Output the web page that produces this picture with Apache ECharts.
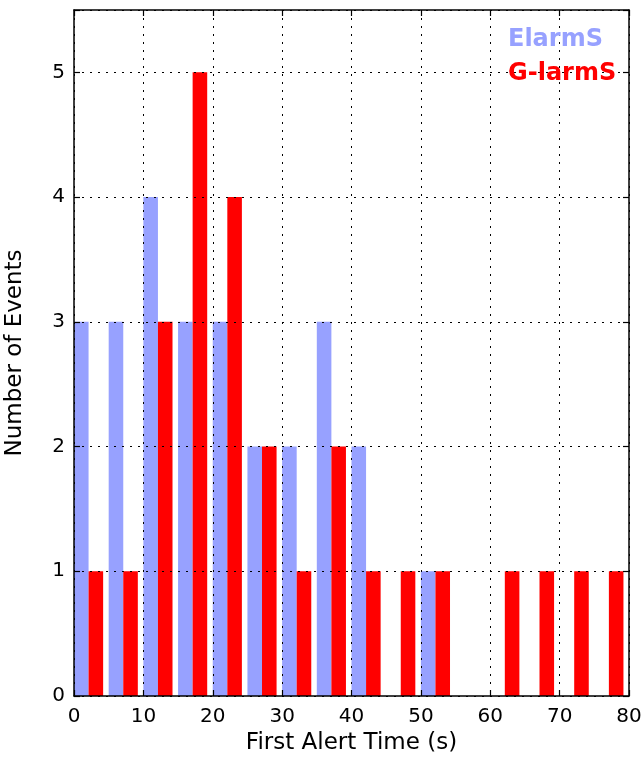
<!DOCTYPE html>
<html>
<head>
<meta charset="utf-8">
<title>First Alert Time</title>
<script src="https://cdn.jsdelivr.net/npm/echarts@6/dist/echarts.min.js"></script>
<style>
  html, body { margin: 0; padding: 0; background: #fff; }
  #chart { width: 644px; height: 761px; }
</style>
</head>
<body>
<div id="chart"></div>
<script>
// histogram bins, 5 s wide, left edges
var binStarts = [0, 5, 10, 15, 20, 25, 30, 35, 40, 45, 50, 55, 60, 65, 70, 75];
var elarmsCounts = [3, 3, 4, 3, 3, 2, 2, 3, 2, 0, 1, 0, 0, 0, 0, 0];
var glarmsCounts = [1, 1, 3, 5, 4, 2, 1, 2, 1, 1, 1, 0, 1, 1, 1, 1];
var seriesNames = ["ElarmS", "G-larmS"];
var xTicks = [0, 10, 20, 30, 40, 50, 60, 70, 80];
var yTicks = [0, 1, 2, 3, 4, 5];

var BAR_W = 2.1; // bar width in seconds
var colors = ["#97a1ff", "#ff0000"];

function binData(counts) {
  var out = [];
  for (var i = 0; i < binStarts.length; i++) {
    out.push([binStarts[i], counts[i]]);
  }
  return out;
}

function barRenderer(offset, color) {
  return function (params, api) {
    var v = api.value(1);
    if (!v) return null;
    var b = api.value(0) + offset;
    var p0 = api.coord([b, v]);
    var p1 = api.coord([b + BAR_W, 0]);
    return {
      type: "rect",
      shape: { x: p0[0], y: p0[1], width: p1[0] - p0[0], height: p1[1] - p0[1] },
      style: { fill: color }
    };
  };
}

var font = "DejaVu Sans";
var gridLine = { show: true, lineStyle: { color: "#000", width: 1, type: [2, 6] } };

var chart = echarts.init(document.getElementById("chart"));
var option = {
  backgroundColor: "#fff",
  animation: false,
  grid: { left: 74, right: 15, top: 10, bottom: 65, containLabel: false, outerBoundsMode: "none" },
  xAxis: [
    {
      type: "value",
      min: xTicks[0],
      max: xTicks[xTicks.length - 1],
      interval: 10,
      z: 5,
      position: "bottom",
      name: "First Alert Time (s)",
      nameLocation: "middle",
      nameGap: 35,
      nameTextStyle: { fontFamily: font, fontSize: 23, color: "#000" },
      axisLine: { onZero: false, lineStyle: { color: "#000", width: 1.5 } },
      axisTick: { inside: true, length: 6, lineStyle: { color: "#000", width: 1.2 } },
      axisLabel: { margin: 11, fontFamily: font, fontSize: 20, color: "#000" },
      splitLine: gridLine
    },
    {
      type: "value",
      min: xTicks[0],
      max: xTicks[xTicks.length - 1],
      interval: 10,
      z: 5,
      position: "top",
      axisLine: { onZero: false, lineStyle: { color: "#000", width: 1.5 } },
      axisTick: { inside: true, length: 6, lineStyle: { color: "#000", width: 1.2 } },
      axisLabel: { show: false },
      splitLine: { show: false }
    }
  ],
  yAxis: [
    {
      type: "value",
      min: 0,
      max: 5.5,
      interval: 1,
      z: 5,
      position: "left",
      name: "Number of Events",
      nameLocation: "middle",
      nameGap: 47,
      nameTextStyle: { fontFamily: font, fontSize: 23, color: "#000" },
      axisLine: { show: true, onZero: false, lineStyle: { color: "#000", width: 1.5 } },
      axisTick: { show: true, inside: true, length: 6, lineStyle: { color: "#000", width: 1.2 } },
      axisLabel: {
        margin: 9, fontFamily: font, fontSize: 20, color: "#000",
        formatter: function (v) { return yTicks.indexOf(v) >= 0 ? String(v) : ""; }
      },
      splitLine: gridLine
    },
    {
      type: "value",
      min: 0,
      max: 5.5,
      interval: 1,
      z: 5,
      position: "right",
      axisLine: { show: true, onZero: false, lineStyle: { color: "#000", width: 1.5 } },
      axisTick: { show: true, inside: true, length: 6, lineStyle: { color: "#000", width: 1.2 } },
      axisLabel: { show: false },
      splitLine: { show: false }
    }
  ],
  graphic: [
    {
      type: "text", left: 508, top: 28, z: 10,
      style: { text: seriesNames[0], fill: colors[0], font: "bold 24px 'DejaVu Sans'" }
    },
    {
      type: "text", left: 508, top: 62, z: 10,
      style: { text: seriesNames[1], fill: colors[1], font: "bold 24px 'DejaVu Sans'" }
    }
  ],
  series: [
    {
      name: seriesNames[0],
      type: "custom",
      xAxisIndex: 0,
      yAxisIndex: 0,
      z: 2,
      renderItem: barRenderer(0, colors[0]),
      encode: { x: 0, y: 1 },
      data: binData(elarmsCounts)
    },
    {
      name: seriesNames[1],
      type: "custom",
      xAxisIndex: 0,
      yAxisIndex: 0,
      z: 2,
      renderItem: barRenderer(BAR_W, colors[1]),
      encode: { x: 0, y: 1 },
      data: binData(glarmsCounts)
    }
  ]
};
chart.setOption(option);
</script>
</body>
</html>
